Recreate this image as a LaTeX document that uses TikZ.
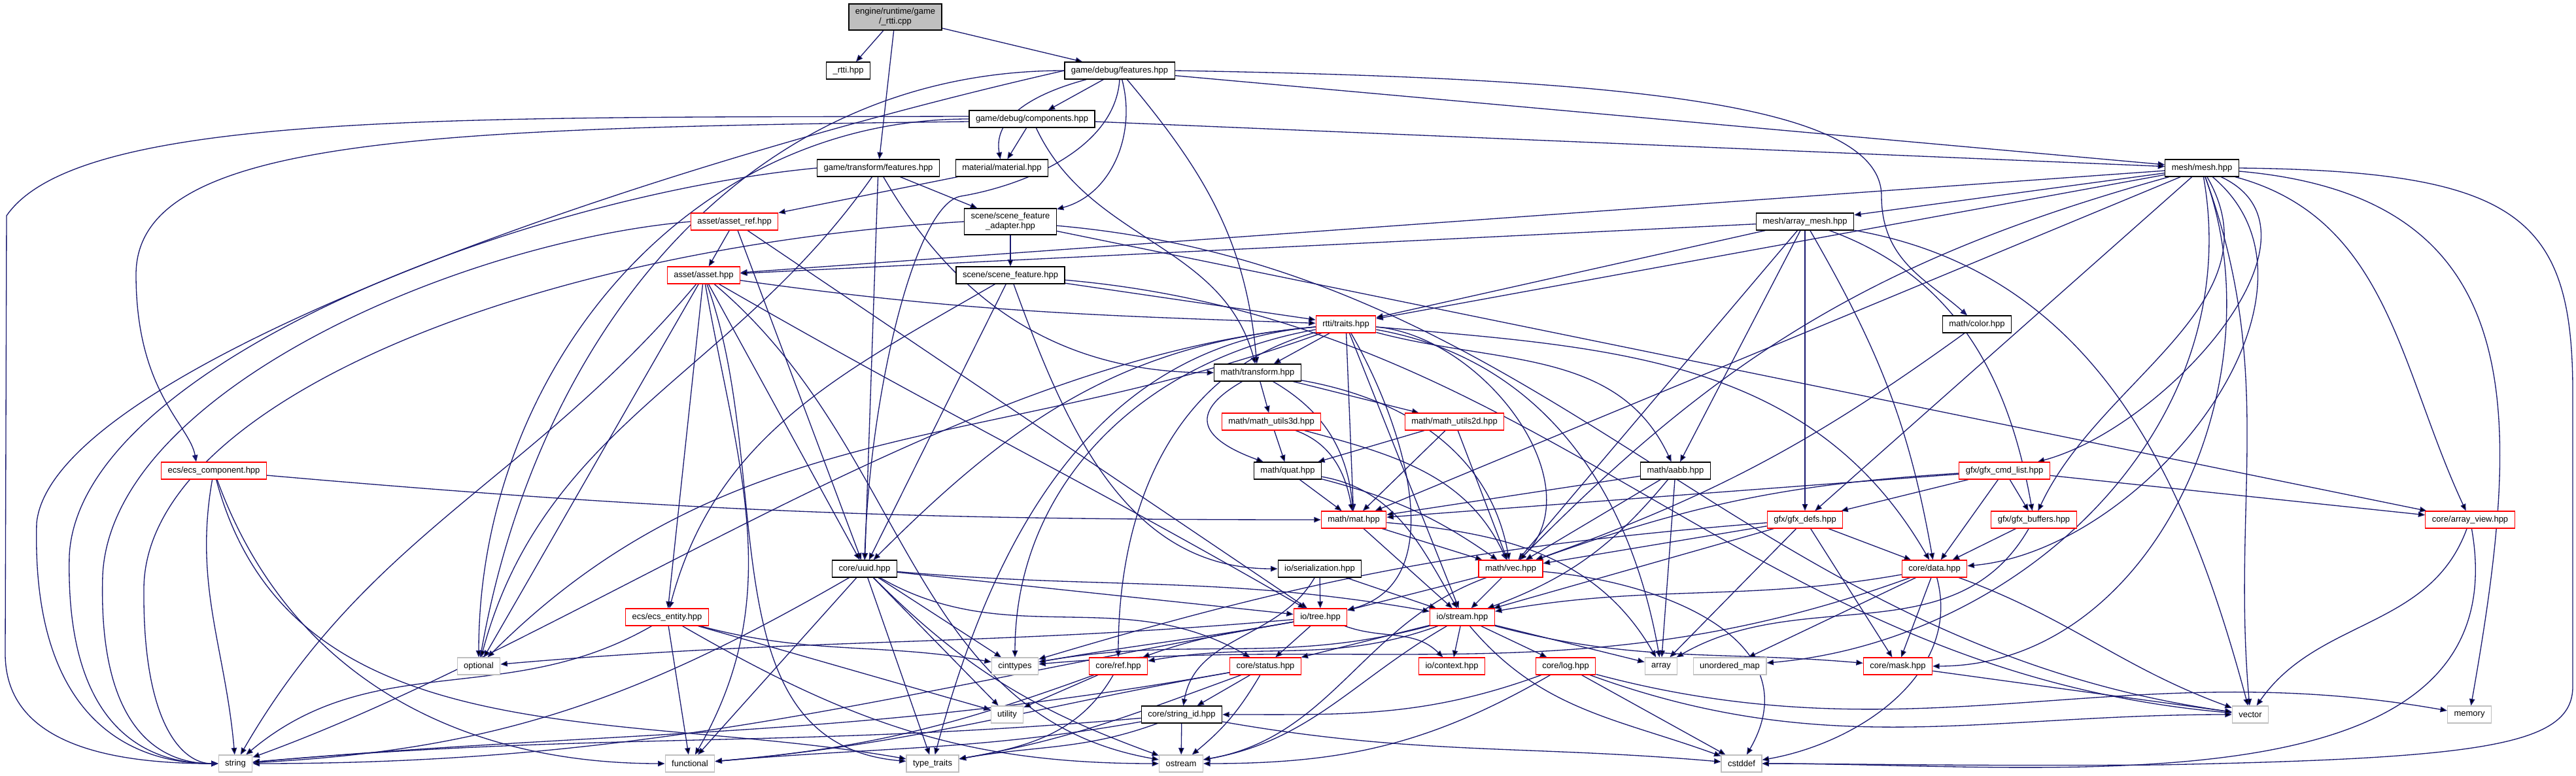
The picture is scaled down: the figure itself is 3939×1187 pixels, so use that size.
\documentclass[tikz,border=0pt]{standalone}
\usepackage{fontspec}
\setmainfont{Liberation Sans}
\usetikzlibrary{arrows.meta,backgrounds}

\definecolor{depblue}{HTML}{191970}
\definecolor{sysgray}{HTML}{BFBFBF}
\newcommand{\boxfont}{\fontsize{3.25pt}{3.75pt}\selectfont}

\tikzset{
    hdr/.style={draw=black, fill=white, line width=0.3pt, rectangle, minimum height=6.5pt, inner xsep=2.5pt, inner ysep=0pt, font=\boxfont},
    trunc/.style={hdr, draw=red},
    sys/.style={hdr, draw=sysgray},
    rootbox/.style={hdr, fill=sysgray, align=center, minimum height=10pt},
    twoline/.style={align=center, minimum height=10pt},
    dep/.style={draw=depblue, line width=0.33pt, -{Triangle[length=2.6pt, width=2.1pt]}}
}

\begin{document}
\begin{tikzpicture}[x=0.25pt, y=0.25pt]
        \useasboundingbox (0,0) rectangle (3939,-1187);

        % Source file and game headers
        \node[rootbox] (root) at (1369,-26) {engine/runtime/game\\/\_rtti.cpp};
        \node[hdr] (rttihpp) at (1297,-108) {\_rtti.hpp};
        \node[hdr] (dbgfeat) at (1712,-108) {game/debug/features.hpp};
        \node[hdr] (dbgcomp) at (1578,-182) {game/debug/components.hpp};
        \node[hdr] (tfeat) at (1343,-257) {game/transform/features.hpp};
        \node[hdr] (material) at (1532,-257) {material/material.hpp};
        \node[hdr] (mesh) at (3367,-257) {mesh/mesh.hpp};

        % Assets, scene, mesh
        \node[trunc] (assetref) at (1123,-339) {asset/asset\_ref.hpp};
        \node[hdr, twoline] (adapter) at (1545,-339) {scene/scene\_feature\\\_adapter.hpp};
        \node[hdr] (arraymesh) at (2760,-339) {mesh/array\_mesh.hpp};
        \node[trunc] (asset) at (1076,-421) {asset/asset.hpp};
        \node[hdr] (scenefeat) at (1545,-421) {scene/scene\_feature.hpp};
        \node[trunc] (traits) at (2058,-496) {rtti/traits.hpp};
        \node[hdr] (color) at (3023,-496) {math/color.hpp};

        % Math and gfx
        \node[hdr] (transform) at (1923,-570) {math/transform.hpp};
        \node[trunc] (mu3d) at (1944,-645) {math/math\_utils3d.hpp};
        \node[trunc] (mu2d) at (2224,-645) {math/math\_utils2d.hpp};
        \node[trunc] (ecscomp) at (327,-720) {ecs/ecs\_component.hpp};
        \node[hdr] (quat) at (1969,-720) {math/quat.hpp};
        \node[hdr] (aabb) at (2562,-720) {math/aabb.hpp};
        \node[trunc] (cmdlist) at (3065,-720) {gfx/gfx\_cmd\_list.hpp};
        \node[trunc] (mat) at (2070,-795) {math/mat.hpp};
        \node[trunc] (gfxdefs) at (2760,-795) {gfx/gfx\_defs.hpp};
        \node[trunc] (buffers) at (3110,-795) {gfx/gfx\_buffers.hpp};
        \node[trunc] (arrayview) at (3777,-795) {core/array\_view.hpp};

        % Core and io
        \node[hdr] (uuid) at (1322,-870) {core/uuid.hpp};
        \node[hdr] (serial) at (2018,-870) {io/serialization.hpp};
        \node[trunc] (vec) at (2310,-870) {math/vec.hpp};
        \node[trunc] (data) at (2958,-870) {core/data.hpp};
        \node[trunc] (ecsent) at (1020,-944) {ecs/ecs\_entity.hpp};
        \node[trunc] (tree) at (2019,-944) {io/tree.hpp};
        \node[trunc] (stream) at (2236,-944) {io/stream.hpp};
        \node[sys] (optional) at (732,-1019) {optional};
        \node[sys] (cinttypes) at (1552,-1019) {cinttypes};
        \node[trunc] (ref) at (1710,-1019) {core/ref.hpp};
        \node[trunc] (status) at (1935,-1019) {core/status.hpp};
        \node[trunc] (context) at (2220,-1019) {io/context.hpp};
        \node[trunc] (log) at (2394,-1019) {core/log.hpp};
        \node[sys] (array) at (2540,-1019) {array};
        \node[sys] (umap) at (2645,-1019) {unordered\_map};
        \node[trunc] (mask) at (2902,-1019) {core/mask.hpp};
        \node[sys] (utility) at (1540,-1093) {utility};
        \node[hdr] (stringid) at (1807,-1093) {core/string\_id.hpp};
        \node[sys] (vector) at (3441,-1093) {vector};
        \node[sys] (memory) at (3776,-1093) {memory};

        % Standard headers
        \node[sys] (string) at (360,-1168) {string};
        \node[sys] (functional) at (1055,-1168) {functional};
        \node[sys] (typetraits) at (1426,-1168) {type\_traits};
        \node[sys] (ostream) at (1806,-1168) {ostream};
        \node[sys] (cstddef) at (2663,-1168) {cstddef};

        \begin{scope}[on background layer]
        \fill[white] (0,0) rectangle (3939,-1187);

        % Source file
        \path[dep] (root) edge (rttihpp) edge (tfeat) edge (dbgfeat);

        % game/debug/features.hpp
        \path[dep] (dbgfeat) edge (dbgcomp)
            edge[out=-165, in=100] (material)
            edge[out=-75, in=15] (adapter)
            edge (mesh)
            edge[out=-50, in=95] (transform)
            edge[out=180, in=80] (optional);
        \draw[dep] (dbgfeat.south) .. controls (1705,-230) and (1560,-285) .. (1470,-300) .. controls (1400,-310) and (1330,-600) .. (uuid.north);
        \draw[dep] (dbgfeat.east) .. controls (2500,-120) and (2877,-160) .. (2877,-300) .. controls (2877,-400) and (2950,-430) .. ([xshift=-3.75pt]color.north);
        \draw[dep] (dbgfeat.west) .. controls (1000,-250) and (80,-560) .. (56,-800) .. controls (48,-1100) and (200,-1168) .. (string.west);

        % game/debug/components.hpp
        \path[dep] (dbgcomp) edge (material)
            edge (mesh)
            edge[out=-65, in=105] (transform)
            edge[out=180, in=90] (optional);
        \draw[dep] ([yshift=1pt]dbgcomp.west) .. controls (700,-180) and (120,-170) .. (10,-330) -- (8,-1000) .. controls (8,-1130) and (150,-1168) .. (string.west);
        \draw[dep] ([yshift=-1pt]dbgcomp.west) .. controls (650,-196) and (208,-210) .. (208,-420) .. controls (208,-600) and (290,-650) .. ([xshift=-6.75pt]ecscomp.north);

        % game/transform/features.hpp
        \path[dep] (tfeat) edge (adapter)
            edge[out=-60, in=180] (transform)
            edge (uuid)
            edge[out=-125, in=75] (optional);
        \draw[dep] (tfeat.west) .. controls (800,-300) and (120,-560) .. (106,-850) .. controls (100,-1110) and (220,-1168) .. (string.west);

        % material, asset_ref, adapter
        \path[dep] (material) edge (assetref);
        \path[dep] (assetref) edge (asset) edge (uuid) edge (tree);
        \draw[dep] (assetref.west) .. controls (700,-370) and (170,-600) .. (157,-880) .. controls (150,-1110) and (240,-1168) .. (string.west);
        \path[dep] (adapter) edge (scenefeat)
            edge (arrayview)
            edge[out=-5, in=172] (vector);
        \draw[dep] (adapter.west) .. controls (800,-380) and (222,-620) .. (220,-900) .. controls (218,-1110) and (280,-1168) .. (string.west);

        % scene/scene_feature.hpp
        \path[dep] (scenefeat) edge (traits)
            edge (uuid)
            edge[out=-150, in=75] (ecsent)
            edge[out=-70, in=180] (serial)
            edge[out=-5, in=175] (vector);

        % asset/asset.hpp
        \path[dep] (asset) edge[out=-8, in=178] (traits)
            edge (uuid)
            edge (ecsent)
            edge[out=-30, in=150] (tree)
            edge[out=-120, in=60] (optional)
            edge[out=-130, in=60] (string)
            edge[out=-80, in=60] (functional)
            edge[out=-70, in=175] (typetraits)
            edge[out=-40, in=170] (ostream);

        % mesh/mesh.hpp
        \path[dep] (mesh) edge (asset)
            edge (arraymesh)
            edge (traits)
            edge[out=-25, in=15] (cmdlist)
            edge (mat)
            edge (gfxdefs)
            edge[out=-60, in=65] (buffers)
            edge[out=-15, in=115] (arrayview)
            edge[out=-40, in=5] (data)
            edge[bend right=15] (vec)
            edge[out=-80, in=5] (umap)
            edge[out=-70, in=0] (mask)
            edge[out=-70, in=95] (vector)
            edge[out=-5, in=80, looseness=1.3] (memory);
        \draw[dep] (mesh.east) .. controls (3850,-262) and (3934,-330) .. (3934,-600) -- (3934,-1050) .. controls (3934,-1140) and (3800,-1160) .. (3300,-1170) .. controls (3000,-1172) and (2800,-1168) .. (cstddef.east);

        % mesh/array_mesh.hpp
        \path[dep] (arraymesh) edge (asset)
            edge (traits)
            edge (aabb)
            edge (gfxdefs)
            edge[out=-20, in=100] (buffers)
            edge[out=-60, in=100] (data)
            edge (vec)
            edge[out=-10, in=105] (vector);

        % rtti/traits.hpp
        \path[dep] (traits) edge (transform)
            edge (mat)
            edge[out=-15, in=115] (aabb)
            edge[out=-5, in=120] (data)
            edge[out=-5, in=45] (vec)
            edge[out=185, in=45] (uuid)
            edge[out=195, in=90] (ref)
            edge[out=-60, in=15] (tree)
            edge (stream)
            edge[out=-160, in=45] (optional)
            edge[out=190, in=90] (cinttypes)
            edge[out=-10, in=100] (array)
            edge[out=185, in=75] (typetraits)
            edge[out=185, in=20, looseness=0.8] (string);

        % math headers
        \path[dep] (color) edge[bend left=8] (vec);
        \path[dep] (transform) edge (mu3d) edge (mu2d)
            edge[out=-150, in=160, looseness=2] (quat)
            edge[out=-30, in=95] (mat)
            edge[out=-10, in=100] (vec);
        \path[dep] (mu3d) edge (quat) edge[out=-20, in=100] (mat) edge[out=-15, in=115] (vec);
        \path[dep] (mu2d) edge (quat) edge (mat) edge (vec);
        \path[dep] (quat) edge (mat) edge[bend left=10] (vec) edge[out=-10, in=120] (stream);
        \path[dep] (aabb) edge (mat) edge (vec) edge[bend left=15] (stream) edge (array);
        \path[dep] (mat) edge (vec) edge (stream) edge[out=-5, in=120] (array);
        \path[dep] (vec) edge (tree) edge (stream) edge[out=-160, in=10] (ostream) edge[out=-5, in=60, looseness=1.2] (cstddef);

        % gfx headers
        \path[dep] (cmdlist) edge (mat) edge (gfxdefs) edge (buffers) edge (data) edge (arrayview) edge[bend right=8] (vec);
        \path[dep] (gfxdefs) edge (vec) edge (data) edge (stream) edge (array) edge (mask) edge[bend right=6] (cinttypes);
        \path[dep] (buffers) edge (data) edge[out=-120, in=30] (array);
        \path[dep] (arrayview) edge[out=-110, in=55] (vector) edge[out=-80, in=0] (cstddef);

        % ecs headers
        \path[dep] (ecscomp) edge[out=-5, in=180] (mat)
            edge[out=-100, in=95] (string)
            edge[out=-70, in=180] (functional)
            edge[out=-75, in=170] (typetraits);
        \path[dep] (ecsent) edge[out=-150, in=40] (string)
            edge (functional)
            edge[out=-15, in=170] (cinttypes)
            edge[out=-30, in=180] (ostream)
            edge (utility);

        % core/uuid.hpp and io/serialization.hpp
        \path[dep] (uuid) edge (tree)
            edge[out=-5, in=170] (stream)
            edge (cinttypes)
            edge[out=-30, in=150] (status)
            edge (utility)
            edge[out=-150, in=3] (string)
            edge (functional)
            edge (typetraits)
            edge[out=-45, in=160] (ostream);
        \path[dep] (serial) edge (tree) edge (stream) edge[out=-120, in=80] (stringid);

        % core/data.hpp
        \path[dep] (data) edge[out=-170, in=10] (stream)
            edge[out=-160, in=5] (cinttypes)
            edge (umap)
            edge (mask)
            edge[out=-20, in=160] (vector)
            edge[out=-75, in=10] (cstddef);

        % io/tree.hpp and io/stream.hpp
        \path[dep] (tree) edge[out=-170, in=20] (ref)
            edge (status)
            edge[out=-20, in=135] (context)
            edge[out=-175, in=5] (optional)
            edge[out=-170, in=10] (cinttypes)
            edge[out=-170, in=0] (string);
        \path[dep] (stream) edge[out=-160, in=10] (ref)
            edge (status)
            edge (context)
            edge (log)
            edge[out=-15, in=175] (mask)
            edge (array)
            edge[out=-165, in=10] (cinttypes)
            edge[out=-150, in=10] (ostream)
            edge[out=-50, in=160] (cstddef);

        % core headers
        \path[dep] (ref) edge (utility) edge[out=-160, in=5] (functional) edge[out=-120, in=10] (typetraits);
        \path[dep] (status) edge (stringid)
            edge[out=-170, in=5] (string)
            edge[out=-170, in=5] (functional)
            edge[out=-160, in=10] (typetraits)
            edge[bend left=10] (ostream);
        \path[dep] (log) edge[out=-160, in=0] (stringid)
            edge (cstddef)
            edge[out=-150, in=0] (ostream)
            edge[out=-20, in=180] (vector)
            edge[out=-15, in=170] (memory);
        \path[dep] (mask) edge (vector);
        \path[dep] (stringid) edge[out=-175, in=5] (string)
            edge[out=-170, in=5] (functional)
            edge[out=-160, in=10] (typetraits)
            edge (ostream)
            edge[out=-10, in=175] (cstddef);
        \end{scope}
\end{tikzpicture}
\end{document}
